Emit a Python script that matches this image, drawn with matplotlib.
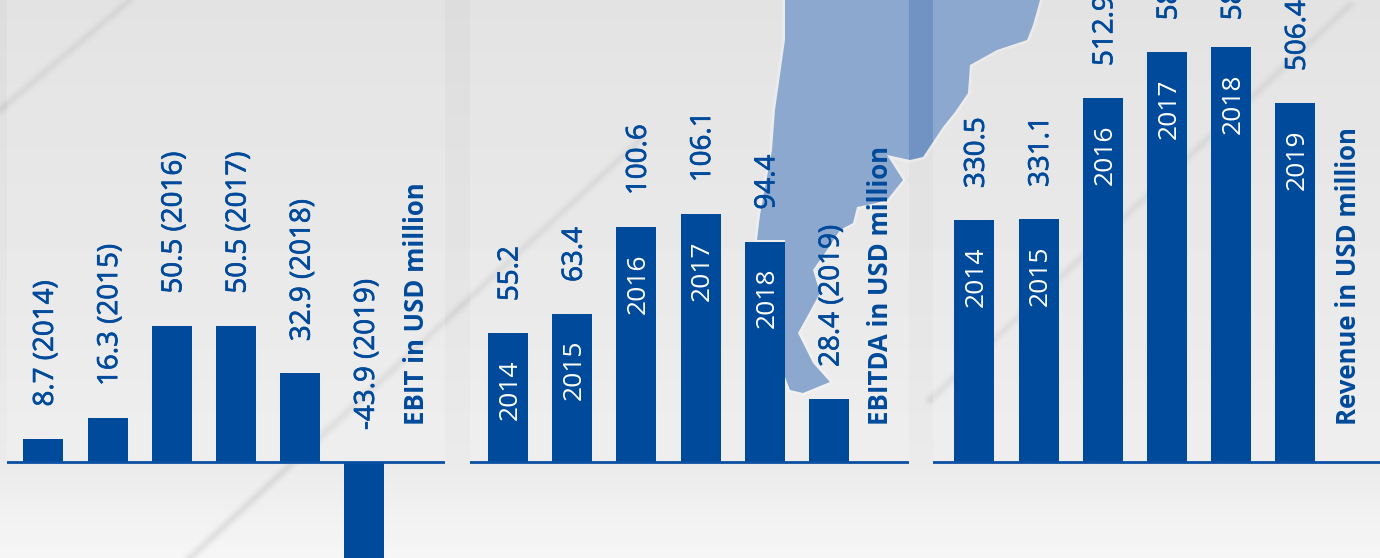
import matplotlib
matplotlib.use("Agg")
import matplotlib.pyplot as plt
import matplotlib.patheffects as pe
import numpy as np

years = ["2014", "2015", "2016", "2017", "2018", "2019"]

# bar heights, labels as printed
ebit = [8.7, 16.3, 50.5, 50.5, 32.9, -43.9]
ebitda = [55.2, 63.4, 100.6, 106.1, 94.4, 27.0]
revenue = [336.0, 337.5, 505.5, 569.0, 576.0, 498.6]
ebit_labels = ["8.7 (2014)", "16.3 (2015)", "50.5 (2016)", "50.5 (2017)", "32.9 (2018)", "-43.9 (2019)"]
ebitda_labels = ["55.2", "63.4", "100.6", "106.1", "94.4", "28.4 (2019)"]
revenue_labels = ["330.5", "331.1", "512.9", "581.0", "586.0", "506.4"]

blue = "#004a9b"
W, H = 1380, 558
FONT = "Open Sans"
px = 72 / 100  # points per pixel at dpi 100

plt.rcParams["font.family"] = FONT
fig = plt.figure(figsize=(W / 100, H / 100), dpi=100)

# background, in pixel coordinates
bg = fig.add_axes([0, 0, 1, 1])
bg.set_xlim(0, W)
bg.set_ylim(H, 0)
bg.axis("off")
grad = np.interp(np.arange(H), [0, 462, 558], [0.865, 0.92, 0.965])
bg.imshow(grad[:, None], cmap="gray", vmin=0, vmax=1, extent=[0, W, H, 0], aspect="auto", zorder=0)

map_x = [785, 785, 775, 772, 760, 757, 785, 785, 790, 803, 830, 813, 798, 808, 820, 813, 827, 840, 853, 857, 872, 887,
         903, 887, 910, 923, 943, 955, 968, 970, 997, 1027, 1033, 1040]
map_y = [0, 40, 110, 150, 215, 240, 240, 377, 390, 393, 382, 363, 333, 315, 293, 270, 250, 230, 223, 207, 204, 200,
         180, 155, 160, 157, 127, 112, 93, 65, 50, 40, 25, 0]
bg.plot(map_x, map_y, color="white", lw=4, alpha=0.25, zorder=1)
bg.fill(map_x, map_y, color="#7093c3", lw=0, zorder=1)

# diagonal light streaks
streaks = [([0, 130], [110, 0]), ([175, 640], [572, 140]), ([930, 1350], [400, 5])]
for sx, sy in streaks:
    for lw, a in [(9, 0.03), (6, 0.05), (3, 0.08)]:
        bg.plot(sx, sy, color="#888888", lw=lw, alpha=a, zorder=2, solid_capstyle="round")
bg.set_xlim(0, W)
bg.set_ylim(H, 0)

# lighter panels behind each chart
for x0, x1 in [(7, 445), (470, 909), (933, 1380)]:
    bg.fill_between([x0, x1], 0, 462, color="white", alpha=0.2, lw=0, zorder=3)


def panel(x0, x1, first, values, labels, px_per_unit, title, title_x, year_inside, gaps=None):
    # axes covers the full height so that the baseline falls at y=462 px
    ax = fig.add_axes([x0 / W, 0, (x1 - x0) / W, 1])
    ax.patch.set_alpha(0)
    ax.axis("off")
    step = 64.2
    ax.set_xlim((x0 - first) / step, (x1 - first) / step)
    ax.set_ylim(-(H - 462) / px_per_unit, 462 / px_per_unit)
    pos = np.arange(len(values))
    ax.bar(pos, values, width=40 / step, color=blue, clip_on=False, zorder=2)
    ax.axhline(0, color="#0a4fa3", lw=2.0, zorder=3)
    thick = [pe.withStroke(linewidth=0.5, foreground=blue)]
    for i, (v, lab) in enumerate(zip(values, labels)):
        y = max(v, 0)
        gap = gaps[i] if gaps else 32
        ax.annotate(lab, (i, y), xytext=(2.5 * px, gap * px), textcoords="offset points", rotation=90,
                    ha="center", va="bottom", color=blue, fontsize=20, annotation_clip=False, path_effects=thick)
        if year_inside[i]:
            ax.annotate(years[i], (i, y), xytext=(2 * px, -26 * px), textcoords="offset points", rotation=90,
                        ha="center", va="top", color="white", fontsize=19, annotation_clip=False)
    ax.annotate(title, ((title_x - first) / step, 0), xytext=(0, 37 * px), textcoords="offset points", rotation=90,
                ha="center", va="bottom", color=blue, fontsize=18.5, fontweight="bold", annotation_clip=False)
    return ax


panel(7, 445, 43.4, ebit, ebit_labels, 2.70, "EBIT in USD million", 417, [False] * 6)
panel(470, 909, 508, ebitda, ebitda_labels, 2.335, "EBITDA in USD million", 881, [True] * 5 + [False])
panel(933, 1380, 974.4, revenue, revenue_labels, 0.72, "Revenue in USD million", 1348, [True] * 6,
      gaps=[32, 32, 32, 32, 27, 32])

fig.savefig("out.png", dpi=100)
